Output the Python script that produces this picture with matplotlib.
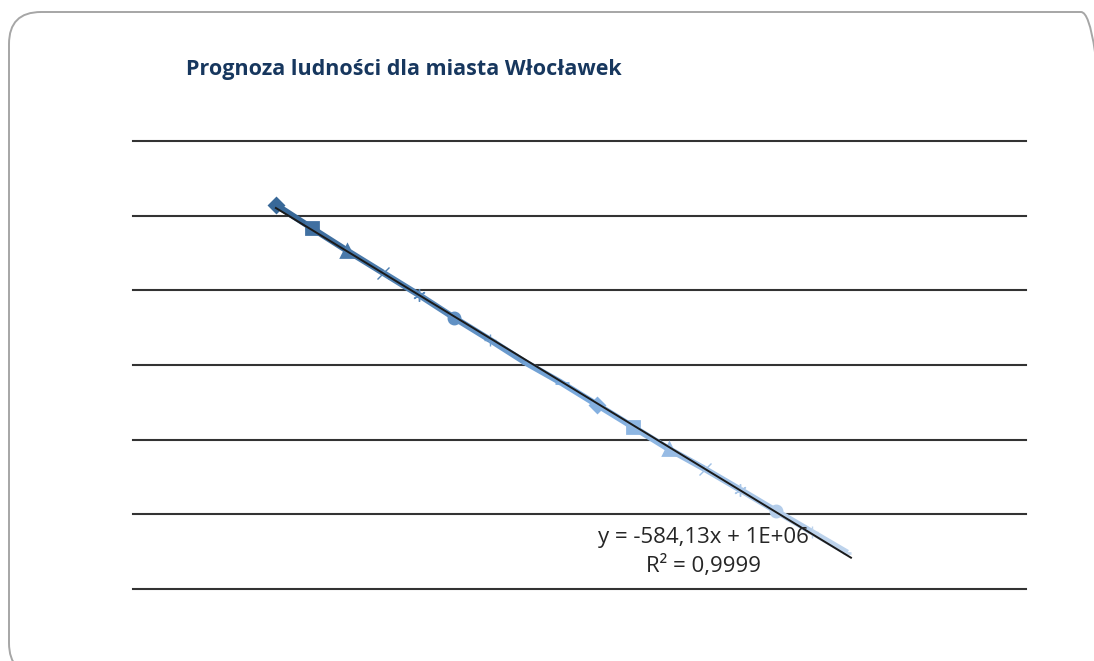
import numpy as np
import matplotlib
matplotlib.use("Agg")
import matplotlib.pyplot as plt
from matplotlib.patches import FancyBboxPatch

# forecast of population, one Excel series per year
years = [2014, 2015, 2016, 2017, 2018, 2019, 2020, 2021, 2022,
         2023, 2024, 2025, 2026, 2027, 2028, 2029, 2030]
population = [114290, 113670, 113060, 112470, 111880, 111260, 110670, 110060, 109520,
              108930, 108340, 107750, 107220, 106660, 106090, 105530, 104970]

title = "Prognoza ludności dla miasta Włocławek"

# Excel auto markers: diamond, square, triangle, x, star, circle, plus, short bar, long bar
markers = ['D', 's', '^', 'x', (6, 2, 0), 'o', '+', '_', '_']
msizes = [7, 8, 8, 9, 9, 8, 9, 6, 10]

fig = plt.figure(figsize=(10.94, 6.61), dpi=100)
fig.patch.set_facecolor("white")

# rounded frame of the chart area (runs off the right and bottom edges)
frame = FancyBboxPatch((9, -14), 1104, 661 - 12 + 14, boxstyle="round,pad=0,rounding_size=32",
                       transform=None, facecolor="none", edgecolor="#a6a6a6", linewidth=1.4)
fig.patches.append(frame)

ax = fig.add_axes([133 / 1094, 1 - 589 / 661, (1026 - 133) / 1094, (589 - 141) / 661])
ax.set_xlim(2010, 2035)
ax.set_ylim(104000, 116000)
for s in ax.spines.values():
    s.set_visible(False)
ax.set_xticks([])
ax.set_yticks(np.arange(104000, 116001, 2000))
ax.tick_params(axis="y", length=0, labelleft=False)
ax.yaxis.grid(True, color="#333333", linewidth=1.5)
ax.set_axisbelow(True)
for gl in ax.get_ygridlines():
    gl.set_clip_on(False)

n = len(years)
cmap = matplotlib.colors.LinearSegmentedColormap.from_list("b", ["#386898", "#7aaade", "#c6d8ee"])
cols = [cmap(i / (n - 1)) for i in range(n)]

# blue band under the trend line
for i in range(n - 1):
    ax.plot(years[i:i + 2], population[i:i + 2], color=cols[i], linewidth=4.5,
            solid_capstyle="butt", zorder=3)

for i in range(n):
    m = markers[i % 9]
    ms = msizes[i % 9]
    ax.plot(years[i], population[i], marker=m, markersize=ms, color=cols[i],
            markeredgewidth=1.0 if m in ('x', '+', (6, 2, 0)) else 2.0, zorder=4)

# linear trend line
a, b = np.polyfit(years, population, 1)
tx = np.array([years[0], years[-1] + 0.1])
ax.plot(tx, a * tx + b, color="#1a1a1a", linewidth=1.4, zorder=5)

fig.text(186 / 1094, 1 - 70 / 661, title, fontsize=15.5, fontweight="bold",
         color="#17375e", family="Open Sans", ha="left", va="center")
fig.text(703 / 1094, 1 - 537 / 661, "y = -584,13x + 1E+06", fontsize=16,
         color="#262626", family="Open Sans", ha="center", va="center")
fig.text(703 / 1094, 1 - 566 / 661, "R² = 0,9999", fontsize=16,
         color="#262626", family="Open Sans", ha="center", va="center")

fig.savefig("out.png", dpi=100)
